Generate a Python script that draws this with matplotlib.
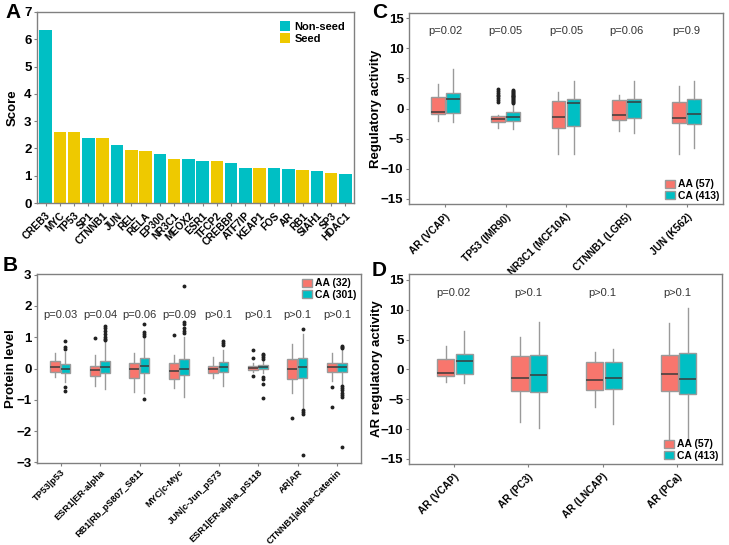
import matplotlib
matplotlib.use("Agg")
import matplotlib.pyplot as plt
from matplotlib.patches import Patch
from matplotlib import font_manager

plt.rcParams['font.family'] = ['Liberation Sans', 'DejaVu Sans']

names = {f.name for f in font_manager.fontManager.ttflist}
HAS_NARROW = 'Liberation Sans Narrow' in names
NARROW = ['Liberation Sans Narrow', 'Liberation Sans'] if HAS_NARROW else ['Liberation Sans']

TEAL = '#00BFC4'
RED = '#F8766D'
GOLD = '#EEC900'
EDGE = '#9a9a9a'
SPINE = '#808080'

# ---------------- Panel A data ----------------
a_genes = ['CREB3', 'MYC', 'TP53', 'SP1', 'CTNNB1', 'JUN', 'REL', 'RELA', 'EP300',
           'NR3C1', 'MEOX2', 'ESR1', 'TFCP2', 'CREBBP', 'ATF7IP', 'KEAP1', 'FOS',
           'AR', 'RB1', 'SIAH1', 'SP3', 'HDAC1']
a_scores = [6.35, 2.6, 2.6, 2.4, 2.38, 2.12, 1.95, 1.92, 1.8, 1.6, 1.6, 1.55, 1.55,
            1.47, 1.28, 1.28, 1.28, 1.23, 1.22, 1.17, 1.1, 1.08]
a_type = ['Non-seed', 'Seed', 'Seed', 'Non-seed', 'Seed', 'Non-seed', 'Seed', 'Seed',
          'Non-seed', 'Seed', 'Non-seed', 'Non-seed', 'Seed', 'Non-seed', 'Non-seed',
          'Seed', 'Non-seed', 'Non-seed', 'Seed', 'Non-seed', 'Seed', 'Non-seed']

# ---------------- Panel B data ----------------
b_labels = ['TP53|p53', 'ESR1|ER-alpha', 'RB1|Rb_pS807_S811', 'MYC|c-Myc',
            'JUN|c-Jun_pS73', 'ESR1|ER-alpha_pS118', 'AR|AR', 'CTNNB1|alpha-Catenin']
b_pvals = ['p=0.03', 'p=0.04', 'p=0.06', 'p=0.09', 'p>0.1', 'p>0.1', 'p>0.1', 'p>0.1']
# each: (whislo, q1, med, q3, whishi)
b_aa_stats = [(-0.26, -0.10, 0.05, 0.24, 0.50),
              (-0.56, -0.23, -0.06, 0.08, 0.43),
              (-0.74, -0.31, 0.00, 0.16, 0.51),
              (-0.61, -0.32, -0.09, 0.17, 0.43),
              (-0.29, -0.13, -0.02, 0.09, 0.37),
              (-0.12, -0.05, 0.03, 0.08, 0.16),
              (-0.79, -0.34, -0.03, 0.29, 0.78),
              (-0.39, -0.10, 0.06, 0.16, 0.51)]
b_aa_fliers = [[], [0.99], [], [1.07], [], [0.58, 0.32, -0.25], [-1.59], [-0.59, -1.22]]
b_ca_stats = [(-0.42, -0.15, -0.02, 0.15, 0.53),
              (-0.66, -0.15, 0.04, 0.25, 0.85),
              (-0.77, -0.15, 0.08, 0.32, 1.00),
              (-0.92, -0.21, 0.00, 0.30, 1.00),
              (-0.55, -0.12, 0.04, 0.20, 0.60),
              (-0.15, -0.03, 0.05, 0.12, 0.27),
              (-1.28, -0.31, 0.04, 0.32, 1.10),
              (-0.49, -0.11, 0.04, 0.16, 0.61)]
b_ca_fliers = [[0.87, 0.69, 0.62, -0.58, -0.71],
               [1.35, 1.3, 1.2, 1.1, 1.0, 0.95, 0.9],
               [1.41, 1.17, 1.1, 1.03, -0.96],
               [2.65, 1.5, 1.42, 1.3, 1.2, 1.12],
               [0.87, 0.8, 0.75],
               [0.47, 0.42, 0.37, 0.3, -0.28, -0.35, -0.5, -0.93],
               [1.25, -1.33, -1.4, -1.47, -2.78],
               [0.73, 0.68, 0.65, -0.55, -0.62, -0.7, -0.78, -0.85, -0.9, -2.52]]

# ---------------- Panel C data ----------------
c_labels = ['AR (VCAP)', 'TP53 (IMR90)', 'NR3C1 (MCF10A)', 'CTNNB1 (LGR5)', 'JUN (K562)']
c_pvals = ['p=0.02', 'p=0.05', 'p=0.05', 'p=0.06', 'p=0.9']
c_aa_stats = [(-2.07, -0.91, -0.64, 1.85, 4.0),
              (-3.18, -2.18, -1.74, -1.3, -1.08),
              (-7.6, -3.23, -1.47, 1.19, 2.68),
              (-3.79, -1.85, -1.08, 1.35, 2.24),
              (-7.6, -2.46, -1.52, 1.02, 3.68)]
c_aa_fliers = [[], [1.1, 1.4, 1.7, 2.0, 2.3, 2.6, 2.9, 3.15], [], [], []]
c_ca_stats = [(-2.3, -0.8, 1.52, 2.62, 6.5),
              (-3.4, -2.07, -1.47, -0.64, 0.6),
              (-7.5, -2.84, 0.86, 1.52, 4.5),
              (-4.06, -1.52, 1.02, 1.52, 4.56),
              (-6.5, -2.57, -0.97, 1.63, 4.56)]
c_ca_fliers = [[], [0.95, 1.1, 1.25, 1.4, 1.55, 1.7, 1.85, 2.0, 2.15, 2.3, 2.45, 2.6, 2.75, 2.9, 3.0],
               [], [], []]

# ---------------- Panel D data ----------------
d_labels = ['AR (VCAP)', 'AR (PC3)', 'AR (LNCAP)', 'AR (PCa)']
d_pvals = ['p=0.02', 'p>0.1', 'p>0.1', 'p>0.1']
d_aa_stats = [(-2.15, -1.04, -0.64, 1.81, 3.94),
              (-8.74, -3.6, -1.48, 2.21, 5.5),
              (-6.23, -3.49, -1.81, 1.2, 3.0),
              (-11.7, -3.6, -0.75, 2.43, 7.74)]
d_ca_stats = [(-2.32, -0.8, 1.48, 2.65, 6.45),
              (-9.75, -3.83, -0.92, 2.43, 8.0),
              (-9.08, -3.21, -1.37, 1.26, 3.38),
              (-12.0, -4.06, -1.59, 2.82, 10.25)]

legend_b = ['AA (32)', 'CA (301)']
legend_cd = ['AA (57)', 'CA (413)']

fig = plt.figure(figsize=(7.29, 5.45), dpi=100)
W, H = 729, 545

XFS = 8.5 if HAS_NARROW else 7.3
XFS_B = 7.8 if HAS_NARROW else 6.7
YTFS = 10.5 if HAS_NARROW else 9.5


def add_axes(l, t, r, b):
    return fig.add_axes([l / W, 1 - b / H, (r - l) / W, (b - t) / H])


def style(ax, xpad=3):
    for s in ax.spines.values():
        s.set_color(SPINE)
        s.set_linewidth(1.0)
    ax.tick_params(axis='both', colors=SPINE, length=2.5, width=0.8,
                   labelcolor='black')
    ax.tick_params(axis='y', labelsize=YTFS, pad=1.5)
    ax.tick_params(axis='x', pad=xpad)
    plt.setp(ax.get_yticklabels(), fontweight='bold', family=NARROW)


def set_xlabels(ax, labels, fs):
    ax.set_xticks(range(len(labels)))
    ax.set_xticklabels(labels, rotation=45, ha='right', rotation_mode='anchor',
                       fontsize=fs, fontweight='bold', family=NARROW)


def set_ylabel(ax, text, x_px, left_px, width_px):
    ax.set_ylabel(text, fontsize=9.5, fontweight='bold')
    ax.yaxis.set_label_coords((x_px - left_px) / width_px, 0.5)


def stats_list(stats, fliers):
    out = []
    for (lo, q1, med, q3, hi), fl in zip(stats, fliers):
        out.append(dict(whislo=lo, q1=q1, med=med, q3=q3, whishi=hi, fliers=fl))
    return out


def draw_boxes(ax, stats, fliers, color, offset, width=0.23):
    n = len(stats)
    pos = [i + offset for i in range(n)]
    bp = ax.bxp(stats_list(stats, fliers), positions=pos, widths=width,
                patch_artist=True, showcaps=False, manage_ticks=False,
                boxprops=dict(facecolor=color, edgecolor=EDGE, linewidth=1.0),
                whiskerprops=dict(color=EDGE, linewidth=1.0),
                medianprops=dict(color='#3b3b3b', linewidth=1.1),
                flierprops=dict(marker='o', markersize=1.8, markerfacecolor='#222222',
                                markeredgecolor='#222222', linestyle='none'))
    return bp


def box_legend(ax, labels, **kw):
    handles = [Patch(facecolor=RED, edgecolor=EDGE), Patch(facecolor=TEAL, edgecolor=EDGE)]
    leg = ax.legend(handles, labels, frameon=False, handlelength=1.0, handleheight=0.8,
                    handletextpad=0.3, labelspacing=0.15, borderpad=0.1,
                    prop=dict(weight='bold', size=7.5), **kw)
    return leg


# ---------------- Panel A ----------------
axA = add_axes(37, 12, 354, 203)
xa = list(range(len(a_genes)))
colsA = [TEAL if t == 'Non-seed' else GOLD for t in a_type]
axA.bar(xa, a_scores, width=0.88, color=colsA, edgecolor='none')
axA.set_xlim(-0.6, len(a_genes) - 0.4)
axA.set_ylim(0, 7)
axA.set_yticks(range(0, 8))
set_xlabels(axA, a_genes, XFS)
set_ylabel(axA, 'Score', 19, 37, 317)
style(axA)
axA.legend([Patch(facecolor=TEAL), Patch(facecolor=GOLD)], ['Non-seed', 'Seed'],
           loc='upper right', frameon=False, handlelength=0.9, handleheight=1.0,
           handletextpad=0.4, labelspacing=0.1, borderaxespad=0.4,
           prop=dict(weight='bold', size=8))

# ---------------- Panel B ----------------
axB = add_axes(37, 274, 361, 463)
draw_boxes(axB, b_aa_stats, b_aa_fliers, RED, -0.14, width=0.25)
draw_boxes(axB, b_ca_stats, b_ca_fliers, TEAL, 0.12, width=0.25)
axB.set_xlim(-0.6, len(b_labels) - 0.4)
axB.set_ylim(-3.02, 3.02)
axB.set_yticks(range(-3, 4))
set_xlabels(axB, b_labels, XFS_B)
for i, p in enumerate(b_pvals):
    axB.text(i, 1.72, p, ha='center', va='center', fontsize=8, color='#333333')
set_ylabel(axB, 'Protein level', 17, 37, 324)
style(axB, xpad=1)
box_legend(axB, legend_b, loc='upper right', borderaxespad=0.3)

# ---------------- Panel C ----------------
axC = add_axes(409, 13, 723, 204)
draw_boxes(axC, c_aa_stats, c_aa_fliers, RED, -0.125)
draw_boxes(axC, c_ca_stats, c_ca_fliers, TEAL, 0.125)
axC.set_xlim(-0.6, len(c_labels) - 0.4)
axC.set_ylim(-15.83, 15.83)
axC.set_yticks(range(-15, 16, 5))
set_xlabels(axC, c_labels, XFS)
for i, p in enumerate(c_pvals):
    axC.text(i, 12.85, p, ha='center', va='center', fontsize=8, color='#333333')
set_ylabel(axC, 'Regulatory activity', 382, 409, 314)
style(axC)
box_legend(axC, legend_cd, loc='lower right', borderaxespad=0.2)

# ---------------- Panel D ----------------
axD = add_axes(409, 274, 722, 464)
draw_boxes(axD, d_aa_stats, [[] for _ in d_labels], RED, -0.11)
draw_boxes(axD, d_ca_stats, [[] for _ in d_labels], TEAL, 0.14)
axD.set_xlim(-0.6, len(d_labels) - 0.4)
axD.set_ylim(-15.85, 16.0)
axD.set_yticks(range(-15, 16, 5))
set_xlabels(axD, d_labels, XFS)
for i, p in enumerate(d_pvals):
    axD.text(i, 12.8, p, ha='center', va='center', fontsize=8, color='#333333')
set_ylabel(axD, 'AR regulatory activity', 383, 409, 313)
style(axD)
box_legend(axD, legend_cd, loc='lower right', borderaxespad=0.2)

# panel letters
for letter, x, y in [('A', 5, 3), ('B', 3, 256), ('C', 372, 3), ('D', 372, 261)]:
    fig.text(x / W, 1 - y / H, letter, fontsize=15, fontweight='bold', va='top', ha='left')

fig.savefig('out.png', dpi=100)
